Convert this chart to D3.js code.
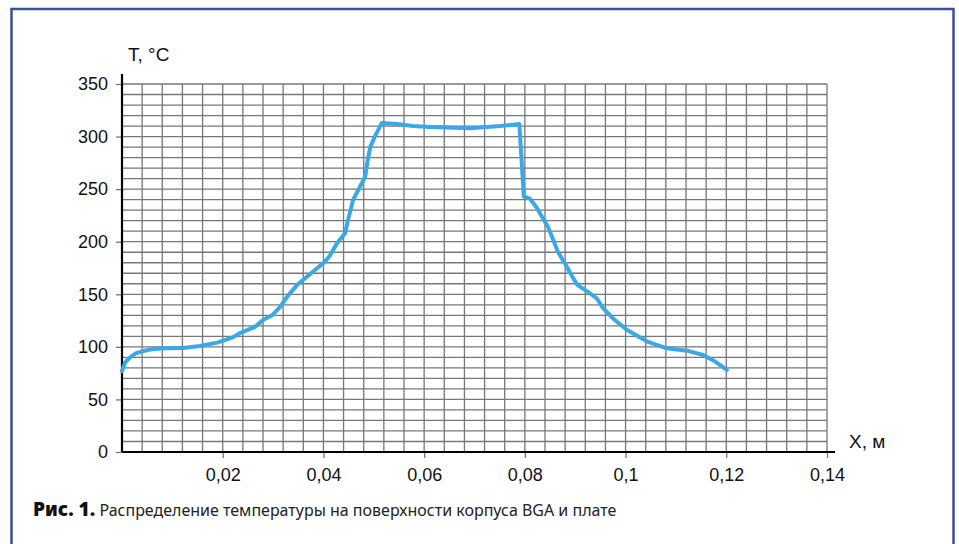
<!DOCTYPE html>
<html>
<head>
<meta charset="utf-8">
<script src="https://cdn.jsdelivr.net/npm/d3@7"></script>
<style>
  body { margin: 0; background: #fff; }
  svg { display: block; }
</style>
</head>
<body>
<div id="chart"></div>
<script>
// X, m
var xs = [0.0000, 0.0006, 0.0016, 0.0028, 0.0042, 0.0062, 0.0089, 0.0121, 0.0155, 0.0189,
  0.0220, 0.0234, 0.0264, 0.0280, 0.0298, 0.0314, 0.0330, 0.0348, 0.0363, 0.0379,
  0.0403, 0.0413, 0.0427, 0.0443, 0.0449, 0.0459, 0.0469, 0.0483, 0.0487, 0.0493,
  0.0502, 0.0516, 0.0546, 0.0578, 0.0612, 0.0691, 0.0751, 0.0789, 0.0798, 0.0810,
  0.0824, 0.0836, 0.0846, 0.0856, 0.0866, 0.0880, 0.0894, 0.0904, 0.0926, 0.0943,
  0.0955, 0.0975, 0.1003, 0.1043, 0.1082, 0.1122, 0.1154, 0.1178, 0.1201];
// T, °C
var temps = [77, 85, 90, 94, 96, 98, 98.6, 99, 100.8, 104,
  109, 113, 119, 125.5, 130, 138, 149, 159, 165, 171.5,
  181, 187, 198.5, 208, 221, 240, 249, 262, 275, 290,
  300, 313, 312, 310, 309, 308, 310, 312, 243, 241,
  232, 222, 214, 202, 190, 179, 167, 159, 152, 146,
  137, 127, 116, 105, 98.6, 96.4, 92.3, 86, 78];

var xTicks = [0.02, 0.04, 0.06, 0.08, 0.1, 0.12, 0.14];
var yTicks = [0, 50, 100, 150, 200, 250, 300, 350];

var data = xs.map(function(d, i) { return {x: d, t: temps[i]}; });

var W = 959, H = 544;
var svg = d3.select("#chart").append("svg")
  .attr("width", W).attr("height", H);

// frame
svg.append("rect")
  .attr("x", 11.5).attr("y", 9).attr("width", 942).attr("height", 600)
  .attr("fill", "none").attr("stroke", "#3d4f99").attr("stroke-width", 2.5);

var x = d3.scaleLinear().domain([0, 0.14]).range([122, 827]);
var y = d3.scaleLinear().domain([0, 350]).range([452, 84]);

// grid
var g = svg.append("g");
g.selectAll("line.v")
  .data(d3.range(1, 36).map(function(i) { return i * 0.004; }))
  .enter().append("line")
  .attr("x1", function(d) { return x(d); }).attr("x2", function(d) { return x(d); })
  .attr("y1", y(350)).attr("y2", y(0))
  .attr("stroke", "#777").attr("stroke-width", 1.3);
g.selectAll("line.h")
  .data(d3.range(1, 36).map(function(i) { return i * 10; }))
  .enter().append("line")
  .attr("x1", x(0)).attr("x2", x(0.14))
  .attr("y1", function(d) { return y(d); }).attr("y2", function(d) { return y(d); })
  .attr("stroke", "#777").attr("stroke-width", 1.3);

// axes
var xAxis = svg.append("g")
  .attr("transform", "translate(0," + y(0) + ")")
  .call(d3.axisBottom(x).tickValues(xTicks).tickSize(6).tickPadding(10)
    .tickFormat(function(d) { return String(d).replace(".", ","); }));
xAxis.select(".domain").remove();
xAxis.selectAll(".tick line").attr("stroke", "#777").attr("stroke-width", 1.3);

var yAxis = svg.append("g")
  .attr("transform", "translate(" + x(0) + ",0)")
  .call(d3.axisLeft(y).tickValues(yTicks).tickSize(6).tickPadding(8));
yAxis.select(".domain").remove();
yAxis.selectAll(".tick line").attr("stroke", "#777").attr("stroke-width", 1.3);

svg.selectAll(".tick text")
  .attr("font-family", "Liberation Sans, Arial, sans-serif")
  .attr("font-size", 18).attr("fill", "#111");

svg.append("line")
  .attr("x1", x(0)).attr("x2", x(0))
  .attr("y1", 74).attr("y2", y(0))
  .attr("stroke", "#000").attr("stroke-width", 2.2);
svg.append("line")
  .attr("x1", x(0)).attr("x2", 835)
  .attr("y1", y(0)).attr("y2", y(0))
  .attr("stroke", "#000").attr("stroke-width", 2.2);

// curve
svg.append("path")
  .datum(data)
  .attr("fill", "none")
  .attr("stroke", "#3aa8e6")
  .attr("stroke-width", 4)
  .attr("stroke-linejoin", "round")
  .attr("stroke-linecap", "round")
  .attr("d", d3.line()
    .x(function(d) { return x(d.x); })
    .y(function(d) { return y(d.t); }));

// axis titles
svg.append("text").attr("x", 128).attr("y", 61)
  .attr("font-family", "Liberation Sans, Arial, sans-serif")
  .attr("font-size", 19).attr("fill", "#111").text("T, °C");
svg.append("text").attr("x", 849).attr("y", 448)
  .attr("font-family", "Liberation Sans, Arial, sans-serif")
  .attr("font-size", 19).attr("fill", "#111").text("X, м");

// caption
var cap = svg.append("text").attr("x", 33).attr("y", 516)
  .attr("font-family", "Noto Sans, sans-serif").attr("font-size", 16).attr("fill", "#222");
cap.append("tspan").attr("font-weight", 900).attr("font-size", 19)
  .attr("fill", "#111").text("Рис. 1.");
cap.append("tspan").text(" Распределение температуры на поверхности корпуса BGA и плате");
</script>
</body>
</html>
